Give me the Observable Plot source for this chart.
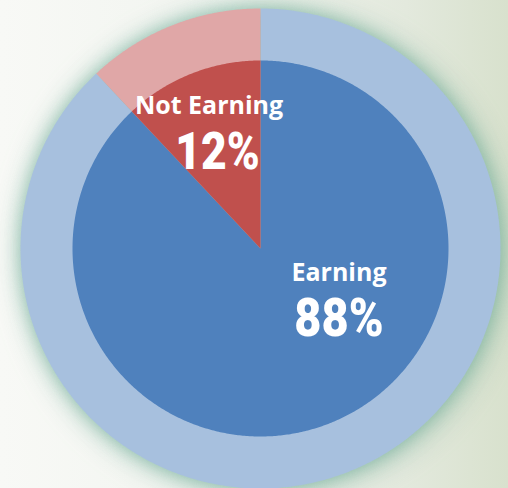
<!DOCTYPE html>
<html>
<head>
<meta charset="utf-8">
<script src="https://cdn.jsdelivr.net/npm/d3@7"></script>
<script src="https://cdn.jsdelivr.net/npm/@observablehq/plot@0.6"></script>
<style>
  html, body { margin: 0; padding: 0; }
  body {
    width: 508px; height: 488px; overflow: hidden;
    background: linear-gradient(90deg, #f8f9f6 0%, #f1f4ef 45%, #e3e9dd 80%, #d8e1cd 100%);
  }
  #chart svg { display: block; }
</style>
</head>
<body>
<div id="chart"></div>
<script>
// ---- data ----
const categories = ["Earning", "Not Earning"];
const shares = [88, 12];
const percentLabels = ["88%", "12%"];

// ---- styles ----
const innerColors = {"Earning": "#4f81bd", "Not Earning": "#c0504d"};
const outerColors = {"Earning": "#a7c0de", "Not Earning": "#e0a7a7"};
const innerRadius = 188 / 240; // relative to outer ring radius

// label layout (data space, outer radius = 1)
const labelLayout = {
  "Earning":     {name: [0.327, -0.103], pct: [0.327, -0.293]},
  "Not Earning": {name: [-0.2146, 0.593], pct: [-0.179, 0.40]}
};

// build wedge polygons from shares (clockwise from 12 o'clock)
const total = d3.sum(shares);
function wedge(i, radius) {
  let start = 0;
  for (let j = 0; j < i; j++) start += shares[j] / total * 2 * Math.PI;
  const span = shares[i] / total * 2 * Math.PI;
  const pts = [{x: 0, y: 0}];
  const n = Math.max(2, Math.ceil(span / (Math.PI / 360)));
  for (let k = 0; k <= n; k++) {
    const a = start + span * k / n;
    pts.push({x: radius * Math.sin(a), y: radius * Math.cos(a)});
  }
  pts.push({x: 0, y: 0});
  return pts;
}

const outerMarks = categories.map((c, i) =>
  Plot.line(wedge(i, 1), {x: "x", y: "y", fill: outerColors[c], stroke: "none"}));
const innerMarks = categories.map((c, i) =>
  Plot.line(wedge(i, innerRadius), {x: "x", y: "y", fill: innerColors[c], stroke: "none"}));

const labelRows = categories.map((c, i) => ({cat: c, name: c, pct: percentLabels[i]}));

const chart = Plot.plot({
  width: 508,
  height: 488,
  marginLeft: 20,
  marginRight: 8,
  marginTop: 8,
  marginBottom: 0,
  x: {domain: [-1, 1], axis: null},
  y: {domain: [-1, 1], axis: null},
  style: {background: "transparent", overflow: "visible"},
  marks: [
    ...outerMarks,
    ...innerMarks,
    Plot.text(labelRows, {
      x: d => labelLayout[d.cat].name[0],
      y: d => labelLayout[d.cat].name[1],
      text: "name",
      fill: "white",
      fontSize: 25,
      fontWeight: 700,
      fontFamily: "'Open Sans', 'Noto Sans', sans-serif"
    }),
    Plot.text(labelRows, {
      x: d => labelLayout[d.cat].pct[0],
      y: d => labelLayout[d.cat].pct[1],
      text: "pct",
      fill: "white",
      fontSize: d => d.cat === "Earning" ? 54 : 51,
      fontWeight: 900,
      fontFamily: "Roboto, 'Open Sans', sans-serif"
    })
  ]
});

const groups = Array.from(chart.querySelectorAll(":scope > g"));
const nOuter = outerMarks.length;
const nInner = innerMarks.length;

// group the outer wedges and give them a soft green glow
const wrap = document.createElementNS("http://www.w3.org/2000/svg", "g");
groups[0].parentNode.insertBefore(wrap, groups[0]);
groups.slice(0, nOuter).forEach(g => wrap.appendChild(g));
wrap.style.filter = "drop-shadow(0px 0px 9px rgba(105,170,148,0.6)) drop-shadow(3px 3px 14px rgba(95,160,138,0.45))";

// condense the percentage labels horizontally around their anchors
const pctGroup = groups[nOuter + nInner + 1];
if (pctGroup) pctGroup.querySelectorAll("text").forEach(t => {
  const tr = t.getAttribute("transform") || "";
  t.setAttribute("transform", tr + " scale(0.87,1)");
});

document.getElementById("chart").appendChild(chart);
</script>
</body>
</html>
